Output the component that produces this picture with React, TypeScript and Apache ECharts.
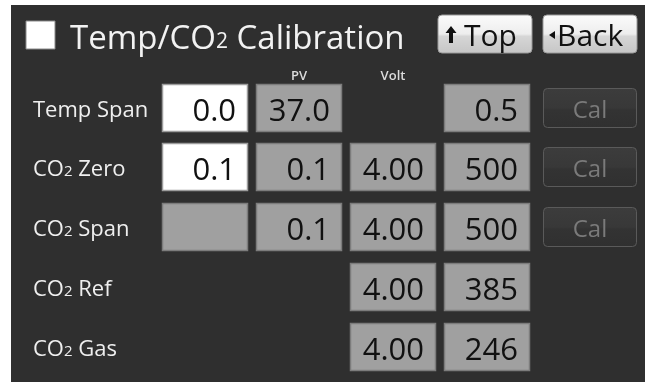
import React, { useEffect, useRef } from "react";
import * as echarts from "echarts";

const rowLabels = ["Temp Span", "CO2 Zero", "CO2 Span", "CO2 Ref", "CO2 Gas"];
// null = no box, "" = empty disabled box
const setValues: (string | null)[] = ["0.0", "0.1", "", null, null];
const setEditable = [true, true, false, false, false];
const pvValues: (string | null)[] = ["37.0", "0.1", "0.1", null, null];
const voltValues: (string | null)[] = [null, "4.00", "4.00", "4.00", "4.00"];
const readValues: (string | null)[] = ["0.5", "500", "500", "385", "246"];
const hasCal = [true, true, true, false, false];
const columnHeaders = ["", "PV", "Volt", ""];
const titleText = "Temp/CO2 Calibration";
const topLabel = "Top";
const backLabel = "Back";
const calLabel = "Cal";

const FONT = "'Open Sans', 'Noto Sans', sans-serif";

function sub2(s: string) {
  return s.replace("CO2", "CO{s|2}");
}

export default function App() {
  const ref = useRef<HTMLDivElement>(null);
  useEffect(() => {
    if (!ref.current) return;
    const chart = echarts.init(ref.current, null, { renderer: "svg" });
    const colX = [162, 256, 350, 444];
    const colW = 86;
    const rowY = [84, 143, 203, 263, 323];
    const boxH = 48;
    const els: any[] = [];
    els.push({ type: "rect", shape: { x: 0, y: 0, width: 652, height: 382 }, style: { fill: "#ffffff" } });
    els.push({ type: "rect", shape: { x: 11, y: 5, width: 634, height: 377 }, style: { fill: "#2f2f2f" } });
    // title checkbox
    els.push({ type: "rect", shape: { x: 26, y: 21, width: 29, height: 28 }, style: { fill: "#ffffff", stroke: "#8a8a8a", lineWidth: 1 } });
    els.push({
      type: "text",
      style: {
        text: sub2(titleText), x: 70, y: 36, fill: "#f2f2f2", font: `33px ${FONT}`,
        verticalAlign: "middle", align: "left",
        rich: { s: { fontSize: 21, fontFamily: FONT, fill: "#f2f2f2", padding: [8, 0, 0, 0] } },
      },
    });
    // top buttons
    const grad = new echarts.graphic.LinearGradient(0, 0, 0, 1, [
      { offset: 0, color: "#fbfbfb" },
      { offset: 0.5, color: "#ededed" },
      { offset: 0.56, color: "#d6d6d6" },
      { offset: 1, color: "#c6c6c6" },
    ]);
    const btns = [
      { x: 438, label: topLabel },
      { x: 543, label: backLabel },
    ];
    btns.forEach((b) => {
      els.push({ type: "rect", shape: { x: b.x, y: 15, width: 94, height: 38, r: 4 }, style: { fill: grad, stroke: "#9a9a9a", lineWidth: 1 } });
    });
    // up arrow
    els.push({ type: "polygon", shape: { points: [[451, 26], [456.5, 33], [453, 33], [453, 43], [449, 43], [449, 33], [445.5, 33]] }, style: { fill: "#111" } });
    els.push({ type: "text", style: { text: topLabel, x: 464, y: 34, fill: "#111", font: `30px ${FONT}`, verticalAlign: "middle" } });
    // left triangle
    els.push({ type: "polygon", shape: { points: [[549, 35], [555, 31], [555, 39]] }, style: { fill: "#111" } });
    els.push({ type: "text", style: { text: backLabel, x: 557, y: 34, fill: "#111", font: `30px ${FONT}`, verticalAlign: "middle" } });
    // column headers
    columnHeaders.forEach((h, i) => {
      if (!h) return;
      els.push({ type: "text", style: { text: h, x: colX[i] + colW / 2, y: 75, fill: "#dcdcdc", font: `600 13px ${FONT}`, align: "center", verticalAlign: "middle" } });
    });
    const box = (x: number, y: number, val: string | null, white: boolean) => {
      els.push({
        type: "rect",
        shape: { x: x + 0.5, y: y + 0.5, width: colW - 1, height: boxH - 1 },
        style: { fill: white ? "#ffffff" : "#a0a0a0", stroke: white ? "#9c9c9c" : "#7c7c7c", lineWidth: 1.5 },
      });
      if (val) {
        els.push({ type: "text", style: { text: val, x: x + colW - 12, y: y + boxH / 2 + 1, fill: "#111", font: `31px ${FONT}`, align: "right", verticalAlign: "middle" } });
      }
    };
    rowLabels.forEach((lab, r) => {
      const y = rowY[r];
      els.push({
        type: "text",
        style: {
          text: sub2(lab), x: 33, y: y + boxH / 2, fill: "#efefef", font: `22px ${FONT}`,
          verticalAlign: "middle",
          rich: { s: { fontSize: 15, fontFamily: FONT, fill: "#efefef", padding: [5, 0, 0, 0] } },
        },
      });
      if (setValues[r] !== null) box(colX[0], y, setValues[r], setEditable[r]);
      if (pvValues[r] !== null) box(colX[1], y, pvValues[r], false);
      if (voltValues[r] !== null) box(colX[2], y, voltValues[r], false);
      if (readValues[r] !== null) box(colX[3], y, readValues[r], false);
      if (hasCal[r]) {
        els.push({
          type: "rect",
          shape: { x: 543.5, y: y + 4.5, width: 93, height: 39, r: 4 },
          style: {
            fill: new echarts.graphic.LinearGradient(0, 0, 0, 1, [
              { offset: 0, color: "#3c3c3c" },
              { offset: 0.5, color: "#383838" },
              { offset: 0.55, color: "#333333" },
              { offset: 1, color: "#303030" },
            ]),
            stroke: "#5a5a5a", lineWidth: 1,
          },
        });
        els.push({ type: "text", style: { text: calLabel, x: 590, y: y + 24, fill: "#7a7a7a", font: `24px ${FONT}`, align: "center", verticalAlign: "middle" } });
      }
    });
    chart.setOption({ animation: false, graphic: { elements: els } });
    return () => chart.dispose();
  }, []);
  return <div ref={ref} style={{ position: "fixed", left: 0, top: 0, width: 652, height: 382 }} />;
}
